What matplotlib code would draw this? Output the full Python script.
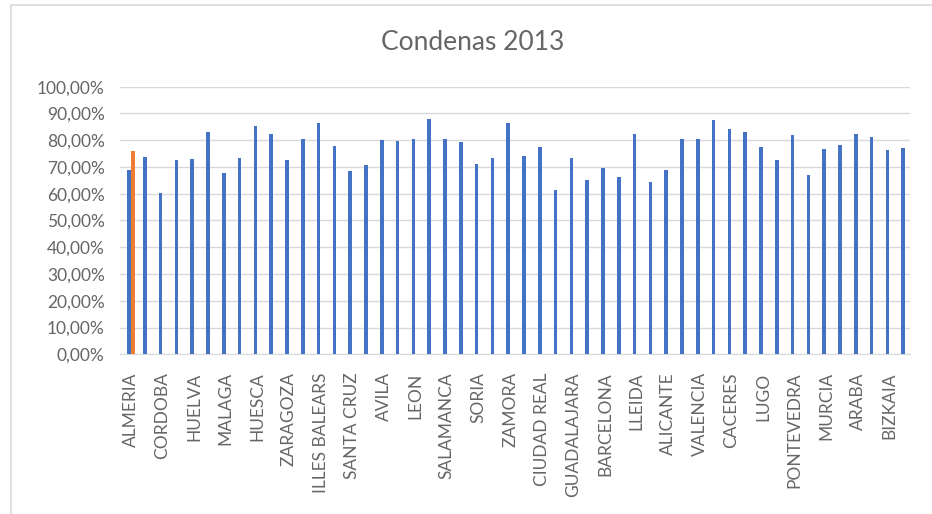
import matplotlib
matplotlib.use("Agg")
import matplotlib.pyplot as plt
from matplotlib.patches import Rectangle
from matplotlib.ticker import FuncFormatter

# provinces in chart order (only every other one is labelled on the axis)
provincias = [
    "ALMERIA", "CADIZ", "CORDOBA", "GRANADA", "HUELVA", "JAEN", "MALAGA", "SEVILLA",
    "HUESCA", "TERUEL", "ZARAGOZA", "ASTURIAS", "ILLES BALEARS", "LAS PALMAS",
    "SANTA CRUZ", "CANTABRIA", "AVILA", "BURGOS", "LEON", "PALENCIA", "SALAMANCA",
    "SEGOVIA", "SORIA", "VALLADOLID", "ZAMORA", "ALBACETE", "CIUDAD REAL", "CUENCA",
    "GUADALAJARA", "TOLEDO", "BARCELONA", "GIRONA", "LLEIDA", "TARRAGONA", "ALICANTE",
    "CASTELLON", "VALENCIA", "BADAJOZ", "CACERES", "A CORUÑA", "LUGO", "OURENSE",
    "PONTEVEDRA", "MADRID", "MURCIA", "NAVARRA", "ARABA", "GIPUZKOA", "BIZKAIA", "LA RIOJA",
]

# share of convictions (%)
condenas = [
    68.9, 73.6, 60.1, 72.5, 73.0, 83.1, 67.7, 73.3, 85.4, 82.3,
    72.5, 80.6, 86.6, 78.0, 68.6, 70.9, 80.0, 79.7, 80.4, 87.8,
    80.4, 79.2, 71.0, 73.3, 86.3, 74.2, 77.3, 61.3, 73.5, 65.1,
    69.5, 66.4, 82.4, 64.3, 68.7, 80.3, 80.4, 87.5, 84.3, 83.1,
    77.6, 72.5, 81.8, 67.1, 76.8, 78.1, 82.4, 81.2, 76.5, 77.2,
]
# second series: only the first province has a value
destacado = [76.1]

BLUE = "#4472C4"
ORANGE = "#ED7D31"
GRID = "#D9D9D9"
TXT = "#666666"

plt.rcParams["font.family"] = ["Lato", "DejaVu Sans"]

fig = plt.figure(figsize=(9.32, 5.14), dpi=100)
ax = fig.add_axes([120 / 932, 1 - 354.3 / 514, 790 / 932, (354.3 - 86.7) / 514])

# chart frame (only left and top edges visible in the crop)
fig.patches.append(Rectangle((11 / 932, -0.1), 1.2, 1.1 - 5 / 514,
                             transform=fig.transFigure, fill=False,
                             edgecolor=GRID, linewidth=1.2))

x = list(range(len(condenas)))
w = 0.22
ax.bar([i - 0.12 for i in x], condenas, width=w, color=BLUE, zorder=3)
ax.bar([i + 0.12 for i in range(len(destacado))], destacado, width=w, color=ORANGE, zorder=3)

ax.set_ylim(0, 100)
ax.set_yticks(range(0, 101, 10))
ax.yaxis.set_major_formatter(FuncFormatter(lambda v, p: f"{v:.2f}%".replace(".", ",")))
ax.set_xlim(-0.69, 49.31)
ax.set_xticks(x[::2])
ax.set_xticklabels(provincias[::2], rotation=90, va="top", ha="center")

ax.grid(axis="y", color=GRID, linewidth=1, zorder=0)
for s in ["top", "right", "left"]:
    ax.spines[s].set_visible(False)
ax.spines["bottom"].set_color(GRID)
ax.tick_params(axis="both", length=0, labelsize=12.5, labelcolor=TXT)
ax.tick_params(axis="y", pad=11)
ax.tick_params(axis="x", pad=13)

fig.text(473 / 932, 1 - 42 / 514, "Condenas 2013", ha="center", va="center",
         fontsize=19, color=TXT)

fig.savefig("out.png", dpi=100)
